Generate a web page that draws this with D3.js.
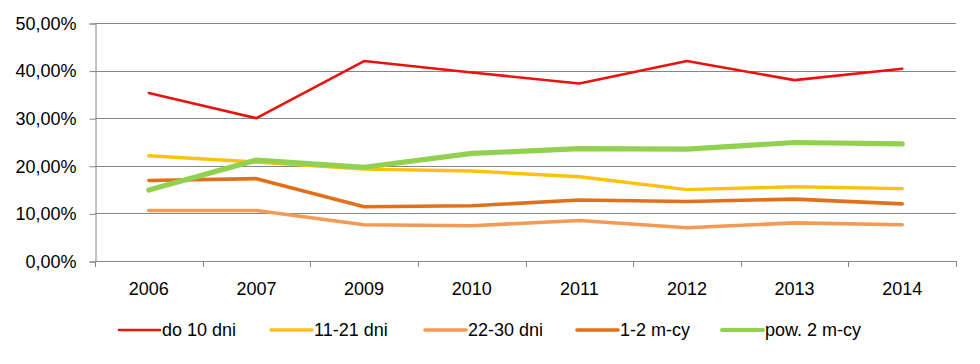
<!DOCTYPE html>
<html>
<head>
<meta charset="utf-8">
<script src="https://cdn.jsdelivr.net/npm/d3@7"></script>
<style>
  html, body { margin: 0; padding: 0; background: #fff; }
  svg text { font-family: "Liberation Sans", Arial, sans-serif; fill: #000; }
</style>
</head>
<body>
<div id="chart"></div>
<script>
// chart data
var years = ['2006', '2007', '2009', '2010', '2011', '2012', '2013', '2014'];
var yTicks = [0, 0.1, 0.2, 0.3, 0.4, 0.5];
var seriesNames = ['do 10 dni', '11-21 dni', '22-30 dni', '1-2 m-cy', 'pow. 2 m-cy'];
var do10 = [0.353, 0.300, 0.420, 0.396, 0.373, 0.420, 0.380, 0.404];
var d11to21 = [0.221, 0.208, 0.193, 0.189, 0.177, 0.150, 0.156, 0.152];
var d22to30 = [0.106, 0.106, 0.076, 0.074, 0.085, 0.070, 0.080, 0.076];
var m1to2 = [0.169, 0.173, 0.114, 0.116, 0.128, 0.125, 0.130, 0.120];
var over2m = [0.149, 0.212, 0.197, 0.226, 0.236, 0.235, 0.249, 0.246];

(function() {
  var width = 980;
  var height = 364;
  var left = 95, right = 956, top = 23, bottom = 261;
  var gridColor = '#868686';
  var colors = ['#e8130f', '#fcc10e', '#f39a55', '#e2701b', '#92d050'];
  var strokes = [2.6, 3.4, 3.6, 3.6, 5.2];
  var allValues = [do10, d11to21, d22to30, m1to2, over2m];

  var svg = d3.select('#chart').append('svg')
    .attr('width', width)
    .attr('height', height);

  var x = d3.scaleBand().domain(years).range([left, right]).padding(0);
  var y = d3.scaleLinear().domain([0, 0.5]).range([bottom, top]);
  var fmt = function(v) { return d3.format('.2f')(v * 100).replace('.', ',') + '%'; };

  // horizontal gridlines
  svg.append('g')
    .selectAll('line')
    .data(yTicks.slice(1))
    .enter().append('line')
    .attr('x1', left).attr('x2', right)
    .attr('y1', function(d) { return Math.round(y(d)) + 0.5; })
    .attr('y2', function(d) { return Math.round(y(d)) + 0.5; })
    .attr('stroke', gridColor)
    .attr('stroke-width', 1);

  // y axis
  var yAxis = svg.append('g')
    .attr('transform', 'translate(' + (left + 0.5) + ',0.5)')
    .call(d3.axisLeft(y).tickValues(yTicks).tickFormat(fmt).tickSize(6).tickPadding(13));
  yAxis.select('.domain').attr('stroke', gridColor);
  yAxis.selectAll('.tick line').attr('stroke', gridColor);
  yAxis.selectAll('text').style('font-size', '18px').attr('fill', '#000');

  // x axis, ticks on band edges
  var xAxis = svg.append('g')
    .attr('transform', 'translate(0,' + (bottom + 0.5) + ')')
    .call(d3.axisBottom(x).tickSize(0).tickPadding(21));
  xAxis.select('.domain').attr('stroke', gridColor).attr('d', 'M' + left + ',0H' + right);
  xAxis.selectAll('text').style('font-size', '18px').attr('fill', '#000');
  svg.append('g')
    .selectAll('line')
    .data(years.map(function(d) { return x(d); }).concat([right]))
    .enter().append('line')
    .attr('x1', function(d) { return Math.round(d) + 0.5; })
    .attr('x2', function(d) { return Math.round(d) + 0.5; })
    .attr('y1', bottom).attr('y2', bottom + 6)
    .attr('stroke', gridColor);

  // series lines
  var line = d3.line()
    .x(function(d, i) { return x(years[i]) + x.bandwidth() / 2; })
    .y(function(d) { return y(d); });

  svg.append('g')
    .selectAll('path')
    .data(allValues)
    .enter().append('path')
    .attr('d', line)
    .attr('fill', 'none')
    .attr('stroke', function(d, i) { return colors[i]; })
    .attr('stroke-width', function(d, i) { return strokes[i]; })
    .attr('stroke-linejoin', 'round')
    .attr('stroke-linecap', 'round');

  // legend
  var legendX = [119, 271, 425, 577, 722];
  var legendY = 330;
  var legend = svg.append('g')
    .selectAll('g')
    .data(seriesNames)
    .enter().append('g')
    .attr('transform', function(d, i) { return 'translate(' + legendX[i] + ',' + legendY + ')'; });
  legend.append('line')
    .attr('x1', 0).attr('x2', 41)
    .attr('y1', 0).attr('y2', 0)
    .attr('stroke', function(d, i) { return colors[i]; })
    .attr('stroke-width', function(d, i) { return Math.min(strokes[i], 4); })
    .attr('stroke-linecap', 'round');
  legend.append('text')
    .attr('x', 43)
    .attr('y', 0)
    .attr('dy', '0.35em')
    .style('font-size', '18px')
    .text(function(d) { return d; });
})();
</script>
</body>
</html>
